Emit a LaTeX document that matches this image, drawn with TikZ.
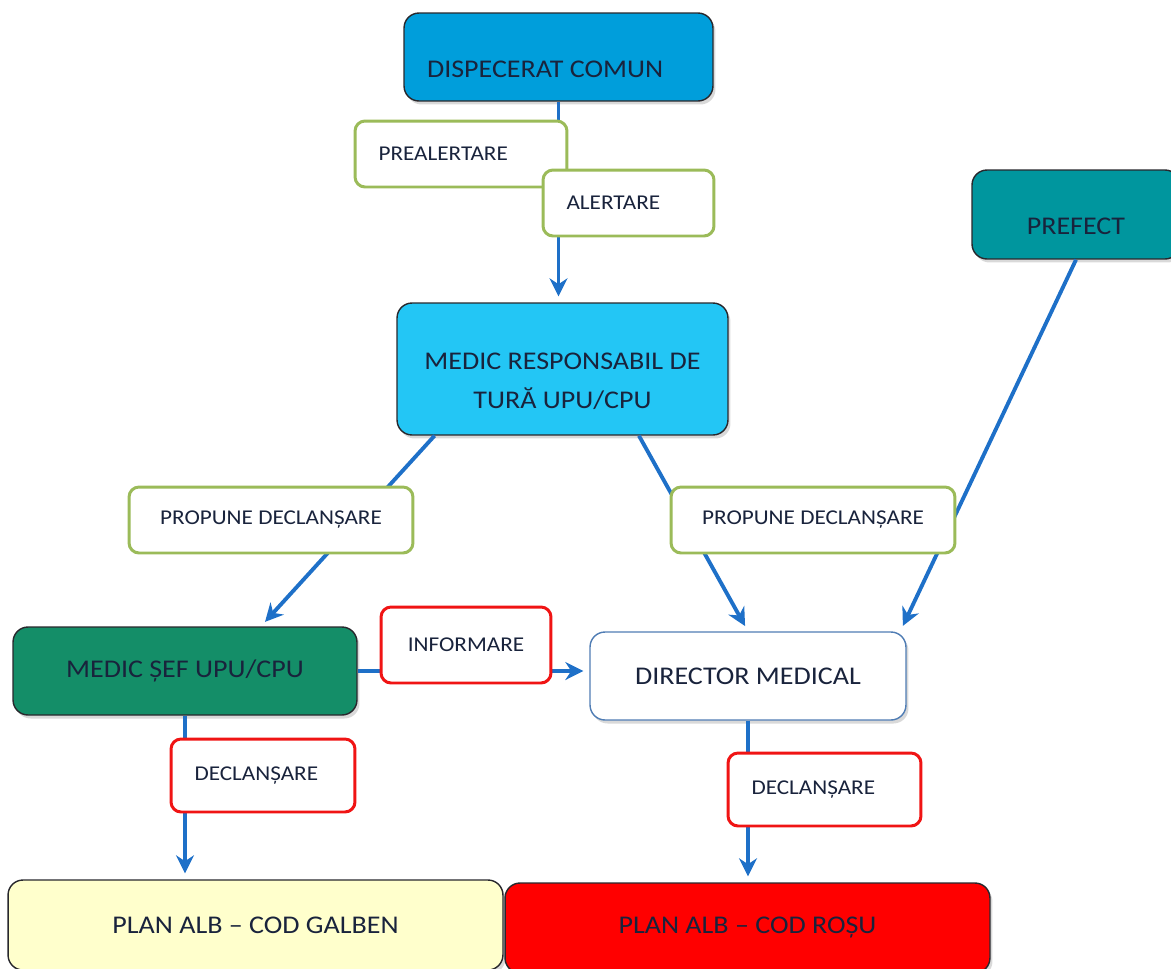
\documentclass[tikz,border=0pt]{standalone}
\usepackage{fontspec}
\setmainfont{Carlito}[FakeStretch=1.1]
\usepackage{tikz}
\usetikzlibrary{shapes,arrows.meta,calc,shadows}
\definecolor{dispblue}{RGB}{0,158,219}
\definecolor{respblue}{RGB}{35,198,245}
\definecolor{prefteal}{RGB}{0,150,158}
\definecolor{sefgreen}{RGB}{20,142,104}
\definecolor{planyellow}{RGB}{255,255,204}
\definecolor{planred}{RGB}{255,0,0}
\definecolor{dirborder}{RGB}{80,125,180}
\definecolor{labelgreen}{RGB}{155,187,89}
\definecolor{labelred}{RGB}{240,20,20}
\definecolor{arrowblue}{RGB}{30,112,200}
\definecolor{boxtext}{RGB}{25,35,60}
\definecolor{boxline}{RGB}{40,40,45}
\tikzstyle{mainbox} = [rectangle, rounded corners=0.3cm, draw=boxline, line width=0.8pt, text=boxtext, align=center, font=\fontsize{14.5}{22}\selectfont, drop shadow={opacity=0.3, shadow xshift=0.05cm, shadow yshift=-0.07cm}]
\tikzstyle{note} = [rectangle, rounded corners=0.2cm, fill=white, line width=1.7pt, minimum height=1.32cm, text=boxtext, font=\fontsize{12}{14}\selectfont]
\tikzstyle{notegreen} = [note, draw=labelgreen]
\tikzstyle{notered} = [note, draw=labelred]
\tikzstyle{noteleft} = [inner xsep=0.47cm, align=flush left]
\tikzstyle{arrow} = [line width=2.2pt, draw=arrowblue, -{Stealth[length=0.36cm, width=0.36cm]}, shorten >=0.12cm]

\begin{document}
\begin{tikzpicture}[x=0.02cm, y=-0.02cm]
\clip (0,0) rectangle (1171,968);

\node (dispecerat) [mainbox, fill=dispblue, minimum width=6.18cm, minimum height=1.76cm, text width=5.26cm, inner xsep=0.46cm, align=flush left, text height=23pt, text depth=0pt] at (558.5,57) {DISPECERAT COMUN};

\node (medresp) [mainbox, fill=respblue, minimum width=6.62cm, minimum height=2.64cm, text height=44.6pt, text depth=0pt] at (562.5,369) {MEDIC RESPONSABIL DE\\ TURĂ UPU/CPU};

\node (prefect) [mainbox, fill=prefteal, minimum width=4.16cm, minimum height=1.78cm, text height=22.4pt, text depth=0pt] at (1076,214.5) {PREFECT};

\node (medsef) [mainbox, fill=sefgreen, minimum width=6.88cm, minimum height=1.76cm] at (185,671) {MEDIC ȘEF UPU/CPU};

\node (director) [mainbox, fill=white, draw=dirborder, minimum width=6.32cm, minimum height=1.76cm] at (748,676) {DIRECTOR MEDICAL};

\node (plangalben) [mainbox, fill=planyellow, minimum width=9.9cm, minimum height=1.8cm] at (255.5,925) {PLAN ALB – COD GALBEN};
\node (planrosu) [mainbox, fill=planred, minimum width=9.7cm, minimum height=1.8cm] at (747.5,928) {PLAN ALB – COD ROȘU};

\draw [arrow] (dispecerat.south) -- (dispecerat.south |- medresp.north);
\draw [arrow] ($(medresp.south west)!0.115!(medresp.south east)$) -- ($(medsef.north west)!0.72!(medsef.north east)$);
\draw [arrow] ($(medresp.south west)!0.73!(medresp.south east)$) -- (director.north);
\draw [arrow] (prefect.south) -- ($(director.north west)!0.98!(director.north east)$);
\draw [arrow] (medsef.east) -- (medsef.east -| director.west);
\draw [arrow] (medsef.south) -- (medsef.south |- plangalben.north);
\draw [arrow] (director.south) -- (director.south |- planrosu.north);

% labels on the connectors
\node (prealert) [notegreen, noteleft, text width=3.3cm] at (461,154) {PREALERTARE};
\node (alert) [notegreen, noteleft, text width=2.48cm] at (628.5,203) {ALERTARE};
\node (propleft) [notegreen, minimum width=5.68cm] at (271,520) {PROPUNE DECLANȘARE};
\node (propright) [notegreen, minimum width=5.68cm] at (813,520) {PROPUNE DECLANȘARE};
\node (inform) [notered, minimum width=3.4cm, minimum height=1.52cm] at (466,645) {INFORMARE};
\node (declleft) [notered, noteleft, text width=2.74cm, minimum height=1.46cm] at (263,775.5) {DECLANȘARE};
\node (declright) [notered, noteleft, text width=2.92cm, minimum height=1.46cm] at (824.5,789.5) {DECLANȘARE};

\end{tikzpicture}
\end{document}
